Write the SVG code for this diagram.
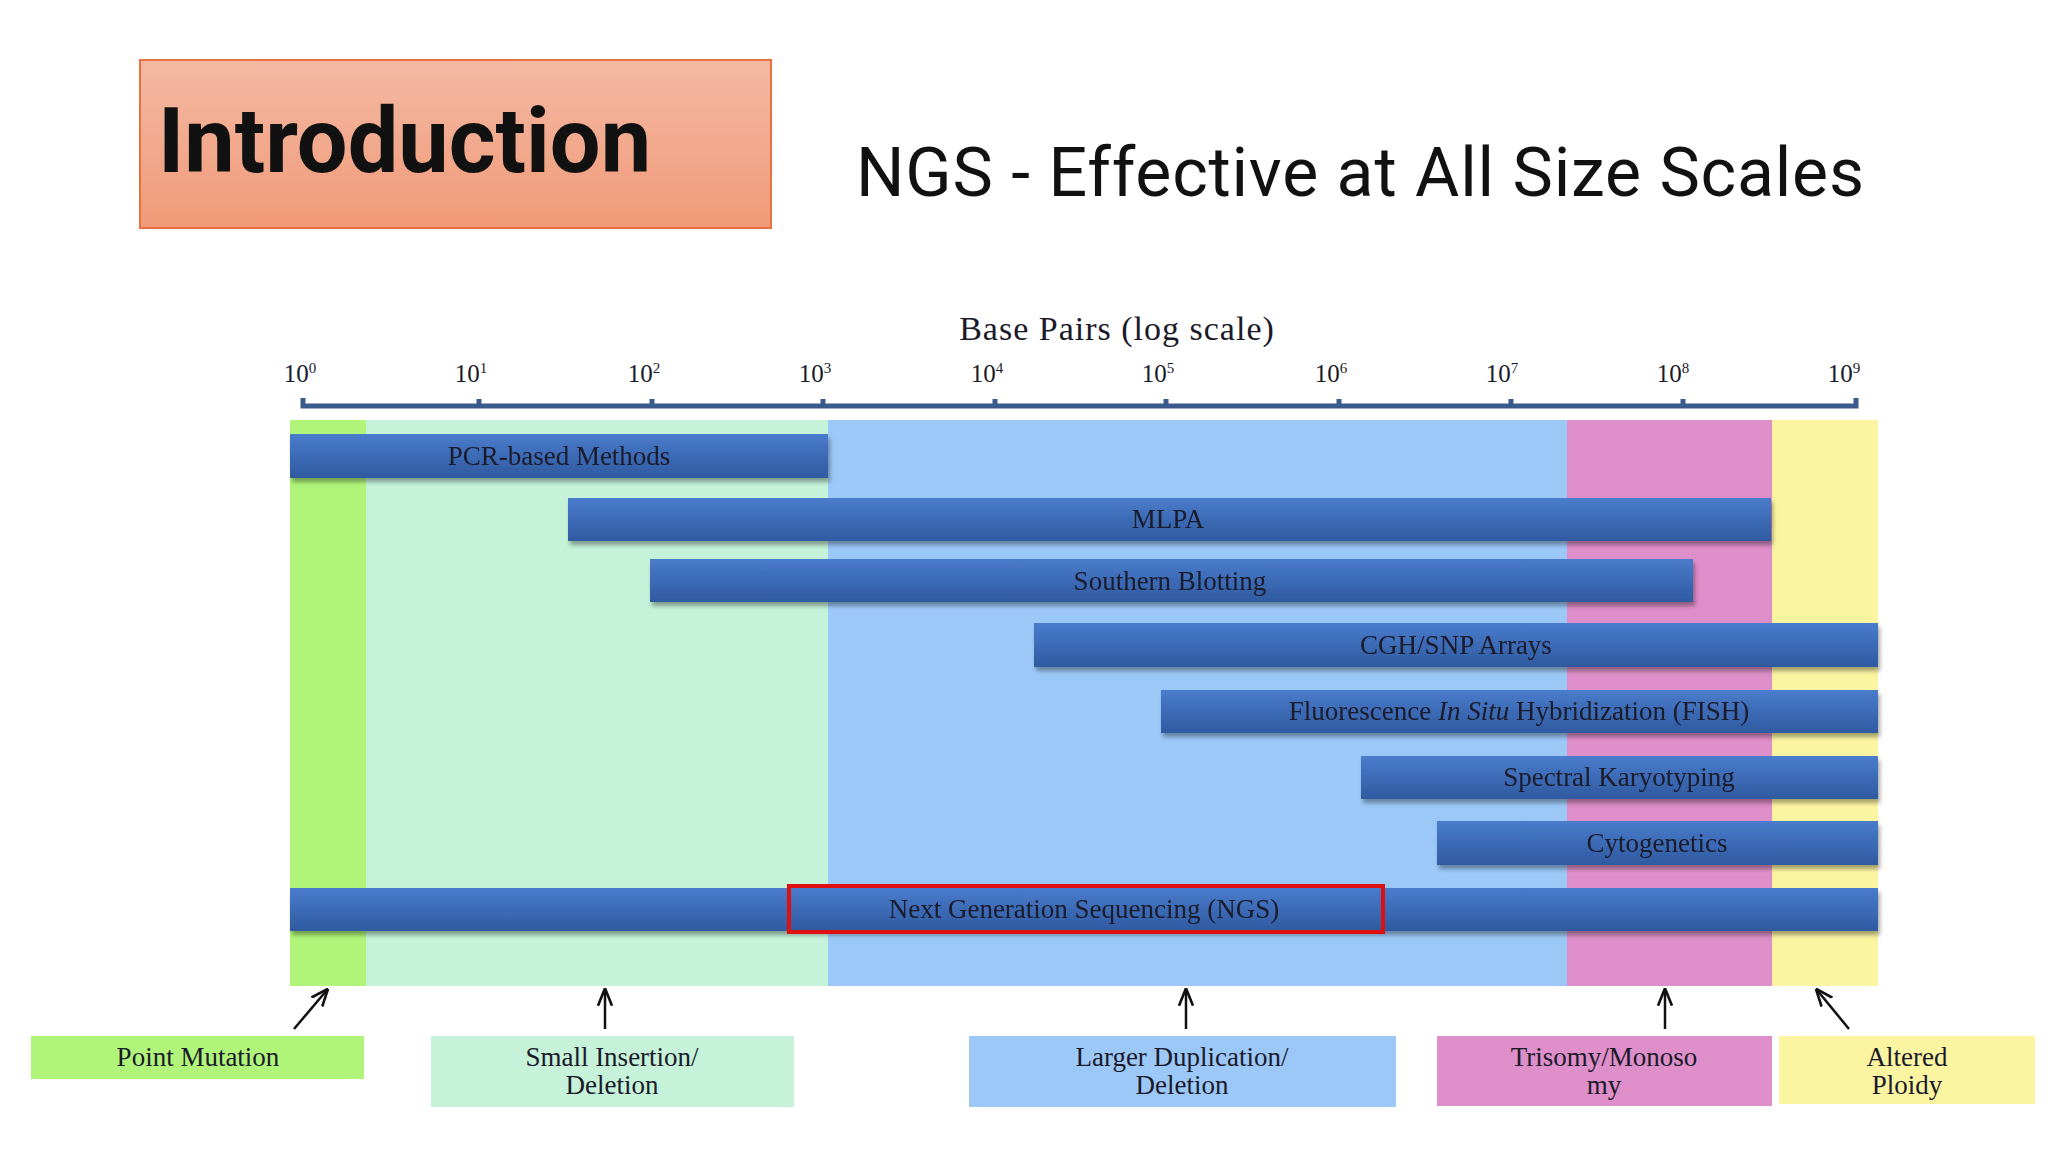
<svg xmlns="http://www.w3.org/2000/svg" width="2048" height="1152" viewBox="0 0 2048 1152">
<style>
.s{font-family:"Liberation Serif","DejaVu Serif",serif;fill:#1a1a2a}
.bl{font-size:27px;text-anchor:middle}
.bar{fill:url(#bg)}
.tk{font-size:25px;text-anchor:middle}
.ar{stroke:#111;stroke-width:2.5;fill:none;marker-end:url(#ah)}
</style>
<defs>
<linearGradient id="bg" x1="0" y1="0" x2="0" y2="1"><stop offset="0" stop-color="#4a7ccc"/><stop offset="1" stop-color="#2f5aa0"/></linearGradient>
<linearGradient id="ib" x1="0" y1="0" x2="0" y2="1"><stop offset="0" stop-color="#f4b9a3"/><stop offset="1" stop-color="#f09a78"/></linearGradient>
<filter id="sh"><feDropShadow dx="2" dy="4" stdDeviation="2" flood-opacity="0.35"/></filter>
<marker id="ah" viewBox="0 0 10 10" refX="9" refY="5" markerWidth="7" markerHeight="7" orient="auto"><path d="M0,1 L10,5 L0,9" fill="none" stroke="#111" stroke-width="1.5"/></marker>
</defs>
<rect width="2048" height="1152" fill="#fff"/>
<g id="intro"><rect x="140" y="60" width="631" height="168" fill="url(#ib)" stroke="#e8723f" stroke-width="2"/>
<text x="158" y="172" font-family="Roboto,'Liberation Sans',sans-serif" font-weight="bold" font-size="90" fill="#111">Introduction</text></g>
<g id="title"><text x="856" y="196" font-family="Roboto,'Liberation Sans',sans-serif" font-size="68" fill="#111" textLength="1008">NGS - Effective at All Size Scales</text></g>
<g id="axis">
<text class="s" x="1117" y="340" font-size="34" text-anchor="middle" letter-spacing="1">Base Pairs (log scale)</text>
<g class="s tk">
<text x="300" y="382">10<tspan dy="-9" font-size="15">0</tspan></text>
<text x="471" y="382">10<tspan dy="-9" font-size="15">1</tspan></text>
<text x="644" y="382">10<tspan dy="-9" font-size="15">2</tspan></text>
<text x="815" y="382">10<tspan dy="-9" font-size="15">3</tspan></text>
<text x="987" y="382">10<tspan dy="-9" font-size="15">4</tspan></text>
<text x="1158" y="382">10<tspan dy="-9" font-size="15">5</tspan></text>
<text x="1331" y="382">10<tspan dy="-9" font-size="15">6</tspan></text>
<text x="1502" y="382">10<tspan dy="-9" font-size="15">7</tspan></text>
<text x="1673" y="382">10<tspan dy="-9" font-size="15">8</tspan></text>
<text x="1844" y="382">10<tspan dy="-9" font-size="15">9</tspan></text>
</g>
<path d="M303,398 V406 H1856 V398 M479,399V406 M652,399V406 M823,399V406 M995,399V406 M1166,399V406 M1339,399V406 M1511,399V406 M1683,399V406" stroke="#3a5a8c" stroke-width="5" fill="none"/>
</g>
<g id="regions">
<rect x="290" y="420" width="76" height="566" fill="#b0f57a"/>
<rect x="366" y="420" width="462" height="566" fill="#c5f2d9"/>
<rect x="828" y="420" width="739" height="566" fill="#9cc8f8"/>
<rect x="1567" y="420" width="205" height="566" fill="#de8ec8"/>
<rect x="1772" y="420" width="106" height="566" fill="#fbf5a2"/>
</g>
<g id="bars" filter="url(#sh)">
<g id="pcr"><rect class="bar" x="290" y="434" width="538" height="44"/><text class="s bl" x="559" y="465">PCR-based Methods</text></g>
<g id="mlpa"><rect class="bar" x="568" y="498" width="1203" height="43"/><text class="s bl" x="1168" y="528">MLPA</text></g>
<g id="southern"><rect class="bar" x="650" y="559" width="1043" height="43"/><text class="s bl" x="1170" y="590">Southern Blotting</text></g>
<g id="cgh"><rect class="bar" x="1034" y="623" width="844" height="44"/><text class="s bl" x="1456" y="654">CGH/SNP Arrays</text></g>
<g id="fish"><rect class="bar" x="1161" y="690" width="717" height="43"/><text class="s bl" x="1519" y="720">Fluorescence <tspan font-style="italic">In Situ</tspan> Hybridization (FISH)</text></g>
<g id="skt"><rect class="bar" x="1361" y="756" width="517" height="43"/><text class="s bl" x="1619" y="786">Spectral Karyotyping</text></g>
<g id="cyto"><rect class="bar" x="1437" y="821" width="441" height="44"/><text class="s bl" x="1657" y="852">Cytogenetics</text></g>
<g id="ngs"><rect class="bar" x="290" y="888" width="1588" height="43"/><text class="s bl" x="1084" y="918">Next Generation Sequencing (NGS)</text></g>
</g>
<rect x="789" y="886" width="594" height="46" fill="none" stroke="#e01010" stroke-width="4"/>
<g id="connectors">
<line class="ar" x1="294" y1="1029" x2="327" y2="990"/>
<line class="ar" x1="605" y1="1029" x2="605" y2="990"/>
<line class="ar" x1="1186" y1="1029" x2="1186" y2="990"/>
<line class="ar" x1="1665" y1="1029" x2="1665" y2="990"/>
<line class="ar" x1="1849" y1="1029" x2="1817" y2="990"/>
</g>
<g id="point"><rect x="31" y="1036" width="333" height="43" fill="#b0f57a"/><text class="s bl" x="198" y="1066">Point Mutation</text></g>
<g id="small"><rect x="431" y="1036" width="363" height="71" fill="#c5f2d9"/><text class="s bl" x="612" y="1066">Small Insertion/</text><text class="s bl" x="612" y="1094">Deletion</text></g>
<g id="larger"><rect x="969" y="1036" width="427" height="71" fill="#9cc8f8"/><text class="s bl" x="1182" y="1066">Larger Duplication/</text><text class="s bl" x="1182" y="1094">Deletion</text></g>
<g id="trisomy"><rect x="1437" y="1036" width="335" height="70" fill="#de8ec8"/><text class="s bl" x="1604" y="1066">Trisomy/Monoso</text><text class="s bl" x="1604" y="1094">my</text></g>
<g id="altered"><rect x="1779" y="1036" width="256" height="68" fill="#fbf5a2"/><text class="s bl" x="1907" y="1066">Altered</text><text class="s bl" x="1907" y="1094">Ploidy</text></g>
</svg>
